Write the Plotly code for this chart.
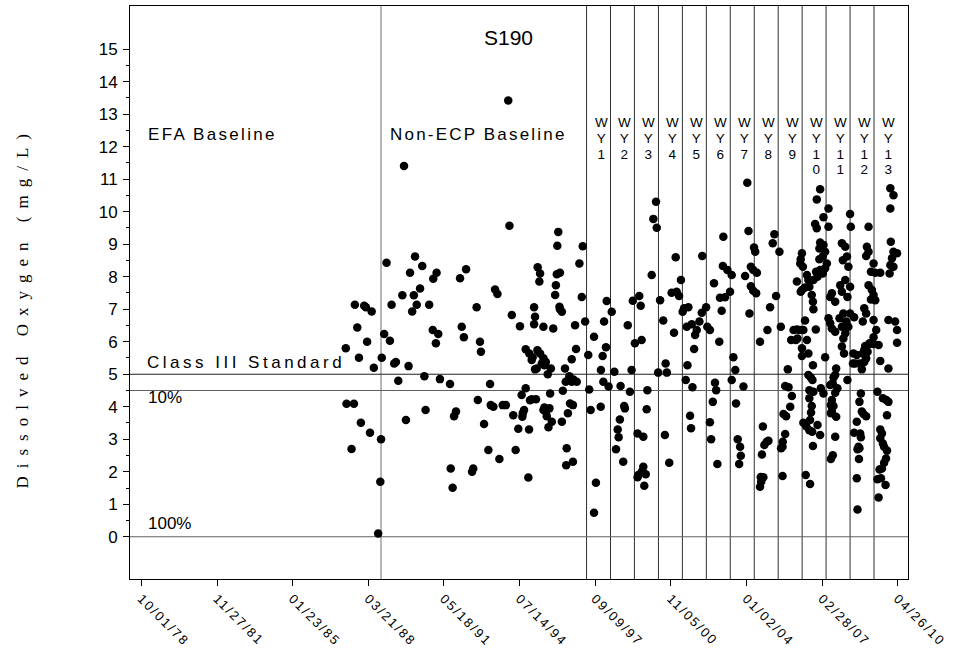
import pandas as pd
import plotly.graph_objects as go

# ---------------- data (decimal year of sample, dissolved oxygen mg/L) ----------------
years_efa = [1987.66, 1988.05, 1988.12, 1988.36, 1987.76, 1987.28, 1988.17, 1987.83, 1988.45,
             1987.31, 1987.62, 1987.91, 1988.29, 1987.52, 1988.75, 1988.72, 1988.63, 1988.78]
do_efa = [7.14, 7.11, 7.06, 6.93, 6.44, 5.80, 6.00, 5.51, 5.20,
          4.09, 4.09, 3.51, 3.20, 2.70, 3.00, 1.69, 0.10, 5.51]

years_nonecp = [
    1988.98, 1988.88, 1989.12, 1989.19, 1989.30, 1989.37, 1989.47, 1989.64,
    1989.71, 1989.79, 1989.90, 1989.96, 1990.05, 1990.12, 1990.17, 1990.24,
    1990.38, 1990.47, 1990.56, 1990.61, 1990.76, 1990.91, 1990.93, 1991.04,
    1991.07, 1991.14, 1991.21, 1991.63, 1991.66, 1991.74, 1991.80, 1991.88,
    1992.05, 1992.12, 1992.21, 1992.30, 1992.55, 1992.60, 1992.74, 1992.79,
    1992.88, 1992.92, 1993.05, 1993.23, 1993.30, 1993.33, 1993.44, 1993.51,
    1993.61, 1993.69, 1993.83, 1993.96, 1994.06, 1994.11, 1994.21, 1994.27,
    1994.37, 1994.48, 1994.55, 1994.62, 1994.65, 1994.67, 1994.72, 1994.79,
    1994.79, 1994.90, 1994.93, 1994.94, 1994.97, 1995.04, 1995.04, 1995.08,
    1995.14, 1995.14, 1995.18, 1995.18, 1995.22, 1995.25, 1995.28, 1995.29,
    1995.36, 1995.39, 1995.39, 1995.46, 1995.53, 1995.53, 1995.53, 1995.57,
    1995.57, 1995.63, 1995.63, 1995.67, 1995.71, 1995.74, 1995.78, 1995.81,
    1995.84, 1995.88, 1995.94, 1996.02, 1996.05, 1996.09, 1996.11, 1996.15,
    1996.20, 1996.22, 1996.22, 1996.30, 1996.30, 1996.34, 1996.43, 1996.46,
    1996.48, 1996.50, 1996.55, 1996.61, 1996.64, 1996.71, 1996.71, 1996.76,
    1996.76, 1996.78, 1996.85, 1996.89, 1996.92, 1997.03, 1997.13, 1997.17,
    1997.27]
do_nonecp = [
    8.43, 6.24, 6.03, 7.14, 5.33, 5.38, 4.80, 7.43,
    11.41, 3.59, 5.25, 8.12, 6.93, 7.43, 8.62, 7.14,
    7.64, 8.33, 4.94, 3.90, 7.14, 6.36, 7.94, 5.95,
    8.12, 6.24, 4.85, 4.70, 2.10, 1.51, 3.71, 3.85,
    7.95, 6.46, 6.14, 8.23, 2.00, 2.10, 7.06, 4.21,
    6.00, 5.69, 3.47, 2.67, 4.70, 4.05, 4.00, 7.61,
    7.47, 2.39, 4.05, 4.05, 13.42, 9.57, 6.82, 3.74,
    2.67, 3.32, 6.48, 4.36, 3.69, 3.80, 3.90, 5.77,
    4.57, 1.82, 3.30, 5.64, 4.20, 4.23, 5.44, 5.52,
    7.06, 6.54, 5.15, 6.77, 4.23, 5.18, 5.74, 8.29,
    7.85, 8.10, 5.64, 5.33, 5.49, 6.46, 3.90, 5.28,
    3.98, 5.38, 3.85, 3.71, 5.00, 3.37, 3.95, 4.41,
    5.18, 3.54, 6.41, 7.44, 7.74, 8.08, 8.95, 9.38,
    7.08, 8.12, 7.00, 6.92, 3.54, 4.49, 5.18, 4.77,
    2.20, 2.72, 3.80, 4.94, 4.10, 5.46, 4.77, 4.05,
    2.31, 4.84, 6.51, 5.78, 4.77, 8.41, 7.38, 8.94,
    6.62]

years_wy = [
    1997.40, 1997.44, 1997.50, 1997.64, 1997.64, 1997.72, 1997.92, 1997.93,
    1998.00, 1998.03, 1998.06, 1998.14, 1998.17, 1998.25, 1998.38, 1998.49,
    1998.56, 1998.63, 1998.67, 1998.72, 1998.75, 1998.86, 1998.90, 1998.93,
    1999.05, 1999.14, 1999.21, 1999.26, 1999.35, 1999.46, 1999.46, 1999.49,
    1999.53, 1999.59, 1999.63, 1999.63, 1999.70, 1999.70, 1999.74, 1999.80,
    1999.84, 1999.87, 2000.05, 2000.12, 2000.23, 2000.26, 2000.32, 2000.40,
    2000.53, 2000.60, 2000.63, 2000.68, 2000.78, 2000.88, 2000.98, 2001.05,
    2001.09, 2001.19, 2001.27, 2001.34, 2001.40, 2001.47, 2001.51, 2001.54,
    2001.58, 2001.65, 2001.69, 2001.72, 2001.75, 2001.82, 2001.86, 2001.93,
    2002.04, 2002.14, 2002.16, 2002.32, 2002.37, 2002.48, 2002.48, 2002.53,
    2002.60, 2002.65, 2002.69, 2002.74, 2002.79, 2002.87, 2002.90, 2002.97,
    2003.02, 2003.04, 2003.11, 2003.21, 2003.32, 2003.39, 2003.39, 2003.46,
    2003.54, 2003.57, 2003.64, 2003.70, 2003.74, 2003.77, 2003.88, 2003.95,
    2004.04, 2004.09, 2004.13, 2004.19, 2004.19, 2004.29, 2004.29, 2004.32,
    2004.37, 2004.41, 2004.44, 2004.57, 2004.57, 2004.60, 2004.62, 2004.65,
    2004.69, 2004.71, 2004.75, 2004.85, 2004.88, 2004.92, 2004.99, 2005.10,
    2005.17, 2005.24, 2005.38, 2005.44, 2005.45, 2005.51, 2005.51, 2005.52,
    2005.55, 2005.62, 2005.62, 2005.66, 2005.73, 2005.76, 2005.83, 2005.87,
    2005.90, 2005.97, 2006.07, 2006.11, 2006.11, 2006.13, 2006.22, 2006.25,
    2006.27, 2006.27, 2006.32, 2006.32, 2006.32, 2006.32, 2006.36, 2006.38,
    2006.38, 2006.45, 2006.45, 2006.48, 2006.50, 2006.53, 2006.53, 2006.59,
    2006.59, 2006.59, 2006.63, 2006.63, 2006.63, 2006.63, 2006.66, 2006.66,
    2006.69, 2006.70, 2006.73, 2006.73, 2006.75, 2006.76, 2006.78, 2006.78,
    2006.78, 2006.80, 2006.80, 2006.80, 2006.87, 2006.90, 2006.91, 2006.94,
    2006.94, 2006.97, 2006.97, 2007.05, 2007.05, 2007.08, 2007.08, 2007.08,
    2007.08, 2007.11, 2007.19, 2007.19, 2007.22, 2007.22, 2007.22, 2007.29,
    2007.29, 2007.29, 2007.36, 2007.43, 2007.43, 2007.43, 2007.50, 2007.50,
    2007.50, 2007.53, 2007.53, 2007.53, 2007.57, 2007.57, 2007.57, 2007.57,
    2007.61, 2007.61, 2007.64, 2007.64, 2007.71, 2007.71, 2007.71, 2007.71,
    2007.71, 2007.75, 2007.75, 2007.80, 2007.89, 2007.92, 2007.99, 2007.99,
    2007.99, 2007.99, 2008.03, 2008.05, 2008.05, 2008.08, 2008.13, 2008.13,
    2008.13, 2008.17, 2008.20, 2008.22, 2008.22, 2008.26, 2008.26, 2008.33,
    2008.33, 2008.33, 2008.36, 2008.45, 2008.47, 2008.50, 2008.50, 2008.54,
    2008.61, 2008.61, 2008.61, 2008.64, 2008.64, 2008.68, 2008.70, 2008.72,
    2008.72, 2008.72, 2008.75, 2008.78, 2008.78, 2008.82, 2008.82, 2008.86,
    2008.86, 2008.89, 2008.92, 2008.92, 2008.92, 2008.96, 2009.00, 2009.00,
    2009.00, 2009.00, 2009.03, 2009.06, 2009.10, 2009.10, 2009.10, 2009.14,
    2009.14, 2009.20, 2009.20, 2009.24, 2009.31, 2009.31, 2009.31, 2009.31,
    2009.31, 2009.38, 2009.38, 2009.42, 2009.47, 2009.47, 2009.52, 2009.52,
    2009.56, 2009.59, 2009.59, 2009.59, 2009.59, 2009.62, 2009.66, 2009.66,
    2009.70, 2009.70, 2009.75, 2009.75, 2009.81, 2009.83, 2009.84, 2009.87,
    2009.87, 2009.93, 2009.93, 2009.93, 2009.98, 2010.01, 2010.01, 2010.01,
    2010.03, 2010.08, 2010.14, 2010.14, 2010.14, 2010.21, 2010.29, 2010.29,
    2010.29]
do_wy = [
    5.59, 4.53, 3.90, 6.15, 0.74, 1.66, 4.00, 5.13,
    5.56, 4.77, 6.62, 5.83, 7.25, 4.62, 6.92, 5.08,
    2.69, 3.30, 3.06, 3.61, 4.64, 2.31, 4.02, 3.95,
    6.51, 4.46, 5.13, 7.26, 5.95, 3.18, 1.83, 1.90,
    7.41, 7.11, 6.05, 2.00, 3.08, 2.15, 1.57, 1.92,
    3.92, 4.51, 8.05, 9.78, 10.31, 9.51, 5.05, 7.28,
    6.65, 3.13, 5.33, 5.05, 2.28, 7.51, 6.28, 8.60,
    7.54, 7.41, 7.90, 6.92, 7.03, 4.82, 6.46, 5.28,
    7.06, 3.72, 3.34, 6.54, 4.60, 5.78, 6.21, 6.36,
    6.62, 6.89, 8.64, 7.06, 6.46, 6.36, 3.52, 3.00,
    4.15, 7.80, 4.74, 4.51, 2.24, 6.00, 7.35, 6.95,
    8.33, 9.23, 7.37, 8.21, 7.54, 8.05, 4.82, 5.52,
    5.13, 4.10, 3.00, 2.24, 2.77, 2.49, 4.62, 8.02,
    10.89, 9.41, 6.87, 8.31, 7.71, 8.21, 7.57, 8.90,
    8.77, 7.49, 8.12, 6.00, 1.54, 1.84, 1.69, 2.53,
    3.39, 1.83, 2.82, 2.92, 6.36, 2.95, 7.06, 9.03,
    9.31, 7.41, 8.77, 6.46, 2.72, 2.77, 1.87, 2.92,
    3.78, 4.64, 3.16, 3.71, 5.15, 4.60, 4.00, 6.05,
    4.33, 6.36, 6.05, 7.85, 6.38, 6.10, 6.36, 8.41,
    8.54, 7.54, 8.72, 7.59, 5.56, 5.80, 8.31, 6.36,
    3.51, 7.67, 6.65, 1.90, 3.40, 8.05, 6.05, 7.90,
    5.64, 4.98, 7.69, 4.51, 4.26, 3.28, 3.59, 1.62,
    4.90, 3.82, 7.44, 4.02, 3.23, 4.82, 7.23, 5.28,
    2.79, 7.00, 7.90, 4.46, 9.62, 6.38, 8.15, 10.38,
    9.49, 8.00, 3.44, 8.87, 8.54, 10.69, 9.05, 8.21,
    3.13, 4.57, 8.62, 8.10, 9.83, 8.98, 4.41, 8.77,
    8.26, 5.52, 8.41, 10.10, 9.54, 6.72, 7.38, 6.57,
    4.67, 4.05, 3.80, 2.39, 7.49, 6.41, 4.21, 3.85,
    4.72, 2.51, 4.90, 4.02, 7.23, 6.31, 4.98, 4.43,
    3.08, 5.18, 3.69, 4.57, 6.72, 7.74, 9.03, 7.54,
    6.46, 5.85, 8.51, 6.87, 6.10, 5.64, 8.92, 7.90,
    6.26, 6.62, 8.62, 7.38, 4.82, 8.31, 6.46, 9.93,
    7.69, 6.87, 9.54, 5.33, 5.64, 6.75, 3.20, 5.33,
    5.59, 3.54, 1.80, 2.69, 0.84, 2.77, 2.39, 5.33,
    4.15, 2.72, 3.18, 4.41, 3.06, 5.15, 3.85, 6.62,
    5.64, 3.78, 7.03, 5.74, 5.38, 5.87, 8.64, 6.87,
    5.49, 3.71, 8.92, 5.69, 9.54, 8.77, 7.74, 5.95,
    5.93, 8.15, 7.30, 7.59, 8.41, 7.44, 6.67, 6.14,
    5.93, 8.12, 7.28, 6.36, 4.46, 1.77, 5.90, 1.21,
    2.07, 8.12, 5.41, 3.30, 3.03, 1.80, 3.18, 2.10,
    4.26, 2.87, 2.77, 2.28, 1.59, 2.41, 4.21, 3.74,
    2.65, 6.67, 5.18, 4.15, 8.10, 10.72, 10.10, 8.36,
    9.08, 8.57, 10.51, 8.77, 8.31, 6.62, 8.72, 6.36,
    5.97]

tick_dates = ["1978-10-01", "1981-11-27", "1985-01-23", "1988-03-21", "1991-05-18", "1994-07-14",
              "1997-09-09", "2000-11-05", "2004-01-02", "2007-02-28", "2010-04-26"]
tick_labels = ["10/01/78", "11/27/81", "01/23/85", "03/21/88", "05/18/91", "07/14/94",
               "09/09/97", "11/05/00", "01/02/04", "02/28/07", "04/26/10"]
y_ticks = [0, 1, 2, 3, 4, 5, 6, 7, 8, 9, 10, 11, 12, 13, 14, 15]
y_minor = [0.5, 1.5, 2.5, 3.5, 4.5, 5.5, 6.5, 7.5, 8.5, 9.5, 10.5, 11.5, 12.5, 13.5, 14.5]

baseline_split = "1988-10-01"
wy_starts = ["1997-05-01", "1998-05-01", "1999-05-01", "2000-05-01", "2001-05-01", "2002-05-01",
             "2003-05-01", "2004-05-01", "2005-05-01", "2006-05-01", "2007-05-01", "2008-05-01",
             "2009-05-01"]
wy_numbers = ["1", "2", "3", "4", "5", "6", "7", "8", "9", "10", "11", "12", "13"]

class3_standard = 5.0
pct10_level = 4.5
pct100_level = 0.0


def to_date(y):
    yr = int(y)
    start = pd.Timestamp(year=yr, month=1, day=1)
    nxt = pd.Timestamp(year=yr + 1, month=1, day=1)
    return start + (nxt - start) * (y - yr)


all_years = years_efa + years_nonecp + years_wy
all_do = do_efa + do_nonecp + do_wy
all_dates = [to_date(y) for y in all_years]

SANS = "Liberation Sans, Arial, sans-serif"
SERIF = "Liberation Serif, Times New Roman, serif"

fig = go.Figure()
fig.add_trace(go.Scatter(
    x=all_dates, y=all_do, mode="markers",
    marker=dict(color="black", size=8.5, line=dict(width=0)),
    showlegend=False, hoverinfo="skip"))

shapes = []
shapes.append(dict(type="line", xref="x", yref="paper", x0=baseline_split, x1=baseline_split,
                   y0=0, y1=1, line=dict(color="#707070", width=1), layer="below"))
for d in wy_starts:
    shapes.append(dict(type="line", xref="x", yref="paper", x0=d, x1=d, y0=0, y1=1,
                       line=dict(color="#303030", width=1), layer="below"))
for lvl, col in [(class3_standard, "#202020"), (pct10_level, "#606060"), (pct100_level, "#606060")]:
    shapes.append(dict(type="line", xref="paper", yref="y", x0=0, x1=1, y0=lvl, y1=lvl,
                       line=dict(color=col, width=1), layer="below"))

annotations = []


def txt(text, x, y, size, xanchor="left", xref="paper", yref="paper", family=SANS, **kw):
    annotations.append(dict(text=text, x=x, y=y, xref=xref, yref=yref, showarrow=False,
                            xanchor=xanchor, yanchor="middle",
                            align="left" if xanchor == "left" else "center",
                            font=dict(family=family, size=size, color="black"), **kw))


txt("S190", 0.4859, 0.9450, 21, xanchor="center")
txt("EFA Baseline", 0.0202, 0.7766, 17)
txt("Non-ECP Baseline", 0.3316, 0.7766, 17)
txt("Class III Standard", 0.0193, 0.3787, 17)
txt("10%", 0.0202, 0.3168, 17)
txt("100%", 0.0202, 0.0960, 17)
txt("Dissolved Oxygen (mg/L)", -0.1388, 0.4738, 17, xanchor="center", family=SERIF, textangle=-90)

# stacked "W / Y / n" water-year labels, one text block each (line pitch set below)
for d, num in zip(wy_starts, wy_numbers):
    annotations.append(dict(text="<br>".join(["W", "Y"] + list(num)), x=d, y=0.8140,
                            xref="x", yref="paper", showarrow=False,
                            xanchor="center", yanchor="top", align="center", xshift=14.5,
                            font=dict(family=SANS, size=13.5, color="black")))

fig.update_layout(
    width=966, height=661,
    margin=dict(l=130, r=58, t=6, b=82, pad=0),
    paper_bgcolor="white", plot_bgcolor="white",
    shapes=shapes, annotations=annotations,
    xaxis=dict(type="date", range=["1978-04-10", "2010-10-01"],
               tickmode="array", tickvals=tick_dates, ticktext=tick_labels, tickangle=45,
               ticks="outside", ticklen=6, tickcolor="black", tickwidth=1,
               showline=True, mirror=True, linecolor="black", linewidth=1,
               showgrid=False, zeroline=False,
               tickfont=dict(family=SANS, size=13, color="black")),
    yaxis=dict(range=[-1.3, 16.33], tickmode="array", tickvals=y_ticks,
               ticks="outside", ticklen=6, tickcolor="black", tickwidth=1,
               ticklabelstandoff=2,
               minor=dict(tickmode="array", tickvals=y_minor, ticks="outside", ticklen=3,
                          tickcolor="black", showgrid=False),
               showline=True, mirror=True, linecolor="black", linewidth=1,
               showgrid=False, zeroline=False,
               tickfont=dict(family=SANS, size=17, color="black")),
)

post = """
var gd = document.getElementById('{plot_id}');
function applySpacing(){
  var spec = {'EFA Baseline':'2.3px','Non-ECP Baseline':'2.2px','Class III Standard':'3.5px',
              'Dissolved Oxygen (mg/L)':'8px'};
  gd.querySelectorAll('text.annotation-text').forEach(function(t){
    var s = spec[t.textContent]; if (s) { t.style.letterSpacing = s; }
    if (/^WY[0-9]+$/.test(t.textContent)) {
      var lines = t.querySelectorAll('tspan.line');
      lines.forEach(function(l, i){ l.setAttribute('dy', (i * 15.8) + 'px'); });
    }
  });
  gd.querySelectorAll('g.xtick text').forEach(function(t){ t.style.letterSpacing = '2px'; });
}
applySpacing();
gd.on('plotly_afterplot', applySpacing);
"""

fig.write_html("out.html", post_script=post)
